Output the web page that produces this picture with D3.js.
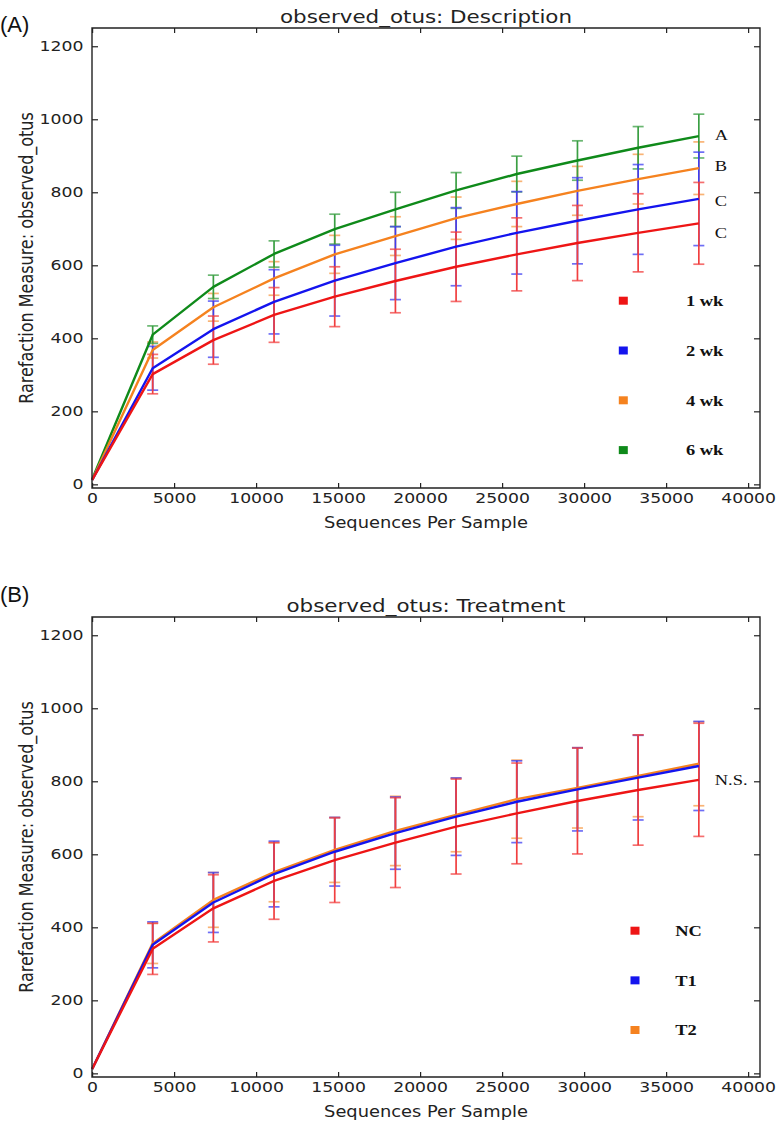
<!DOCTYPE html>
<html><head><meta charset="utf-8">
<script src="https://cdn.jsdelivr.net/npm/d3@7"></script>
<style>body{margin:0;background:#fff}</style>
</head><body>
<svg id="c" width="777" height="1128" xmlns="http://www.w3.org/2000/svg"></svg>
<script>
// ---------- data ----------
const seqDepths = [10, 3700, 7400, 11100, 14800, 18500, 22200, 25900, 29600, 33300, 37000];
const xTicks = [0, 5000, 10000, 15000, 20000, 25000, 30000, 35000, 40000];
const yTicks = [0, 200, 400, 600, 800, 1000, 1200];

// Panel A: Description
const descNames = ["1 wk", "2 wk", "4 wk", "6 wk"];
const desc1wkMean = [12, 302, 395, 464, 514, 557, 596, 630, 661, 689, 715];
const desc2wkMean = [12, 318, 425, 500, 558, 606, 651, 689, 722, 753, 782];
const desc4wkMean = [12, 368, 485, 564, 630, 680, 729, 768, 804, 836, 866];
const desc6wkMean = [14, 410, 541, 631, 699, 753, 805, 850, 887, 922, 954];
const desc1wkSd = [0, 54, 66, 75, 82, 87, 95, 100, 103, 107, 112];
const desc2wkSd = [0, 60, 77, 88, 97, 100, 107, 113, 118, 123, 128];
const desc4wkSd = [0, 22, 38, 46, 52, 53, 58, 62, 67, 68, 72];
const desc6wkSd = [0, 24, 32, 36, 41, 47, 49, 49, 54, 58, 60];
const descLetters = ["A", "B", "C", "C"];
const descLetterVals = [957, 873, 777, 688];

// Panel B: Treatment
const treatNames = ["NC", "T1", "T2"];
const treatNCMean = [12, 341, 452, 527, 584, 632, 676, 712, 746, 776, 804];
const treatT1Mean = [12, 352, 468, 546, 607, 658, 703, 744, 778, 810, 842];
const treatT2Mean = [12, 356, 475, 551, 612, 664, 708, 751, 782, 815, 848];
const treatNCSd = [0, 70, 92, 105, 116, 123, 130, 138, 145, 151, 155];
const treatT1Sd = [0, 63, 82, 90, 94, 99, 106, 112, 114, 116, 122];
const treatT2Sd = [0, 55, 75, 81, 89, 95, 101, 107, 110, 112, 115];
const treatNote = "N.S.";
const treatNoteVal = 804;

// ---------- styling ----------
const RED = "#ee1515", BLUE = "#1414ee", ORANGE = "#f5821f", GREEN = "#0f8a1a";
const S = 1.19; // horizontal stretch of the reference picture
const svg = d3.select("#c");
const root = svg.append("g").attr("transform", `scale(${S},1)`);

function panel(cfg) {
  const g = root.append("g");
  const x = d3.scaleLinear().domain([0, 40730]).range([cfg.left / S, cfg.right / S]);
  const y = d3.scaleLinear().domain([-10, 1250]).range([cfg.bottom, cfg.top]);

  // error bars
  cfg.barOrder.forEach(si => {
    const s = cfg.series[si];
    const barColor = d3.interpolateRgb(s.color, "#ffffff")(0.18);
    const eg = g.append("g").attr("stroke", barColor)
      .attr("stroke-width", 1.7).attr("fill", "none");
    const pts = seqDepths.map((d, i) => ({x: d, m: s.mean[i], sd: s.sd[i]})).filter(p => p.sd > 0);
    eg.selectAll("line.v").data(pts).join("line").attr("class", "v")
      .attr("x1", p => x(p.x)).attr("x2", p => x(p.x))
      .attr("y1", p => y(p.m - p.sd)).attr("y2", p => y(p.m + p.sd))
      .attr("vector-effect", "non-scaling-stroke");
    ["lo", "hi"].forEach(k => {
      eg.selectAll("line." + k).data(pts).join("line").attr("class", k)
        .attr("x1", p => x(p.x) - 5.5 / S).attr("x2", p => x(p.x) + 5.5 / S)
        .attr("y1", p => y(k === "lo" ? p.m - p.sd : p.m + p.sd))
        .attr("y2", p => y(k === "lo" ? p.m - p.sd : p.m + p.sd))
        .attr("stroke-opacity", 0.75)
        .attr("vector-effect", "non-scaling-stroke");
    });
  });

  // lines
  const line = d3.line().x((d, i) => x(seqDepths[i])).y(d => y(d));
  cfg.lineOrder.forEach(si => {
    const s = cfg.series[si];
    g.append("path").datum(s.mean).attr("d", line).attr("fill", "none")
      .attr("stroke", s.color).attr("stroke-width", 2.4)
      .attr("stroke-linejoin", "round")
      .attr("vector-effect", "non-scaling-stroke");
  });

  // axes (inward ticks on all four sides)
  const tickFont = "'DejaVu Sans', sans-serif";
  const ax = g.append("g").attr("transform", `translate(0,${cfg.bottom})`)
    .call(d3.axisBottom(x).tickValues(xTicks).tickSize(-5).tickPadding(4.8).tickFormat(d3.format("d")));
  const ay = g.append("g").attr("transform", `translate(${cfg.left / S},0)`)
    .call(d3.axisLeft(y).tickValues(yTicks).tickSize(-6 / S).tickPadding(8.6 / S).tickFormat(d3.format("d")));
  const at = g.append("g").attr("transform", `translate(0,${cfg.top})`)
    .call(d3.axisTop(x).tickValues(xTicks).tickSize(-5).tickFormat(""));
  const ar = g.append("g").attr("transform", `translate(${cfg.right / S},0)`)
    .call(d3.axisRight(y).tickValues(yTicks).tickSize(-6 / S).tickFormat(""));
  [ax, ay, at, ar].forEach(a => {
    a.select(".domain").remove();
    a.selectAll("line").attr("stroke", "#222").attr("stroke-width", 1.2).attr("vector-effect", "non-scaling-stroke");
    a.selectAll("text").attr("font-family", tickFont).attr("font-size", 14.5).attr("fill", "#222");
  });

  // frame
  g.append("rect").attr("x", cfg.left / S).attr("y", cfg.top)
    .attr("width", (cfg.right - cfg.left) / S).attr("height", cfg.bottom - cfg.top)
    .attr("fill", "none").attr("stroke", "#222").attr("stroke-width", 1.4)
    .attr("vector-effect", "non-scaling-stroke");

  // title and axis labels
  const cx = (cfg.left + cfg.right) / 2 / S;
  g.append("text").attr("x", cx).attr("y", cfg.top - 4.5).attr("text-anchor", "middle")
    .attr("font-family", tickFont).attr("font-size", 18).attr("fill", "#222").text(cfg.title);
  g.append("text").attr("x", cx).attr("y", cfg.bottom + 40).attr("text-anchor", "middle")
    .attr("font-family", tickFont).attr("font-size", 15).attr("fill", "#222").text("Sequences Per Sample");
  g.append("text").attr("transform", `translate(${33 / S},${(cfg.top + cfg.bottom) / 2}) rotate(-90)`)
    .attr("text-anchor", "middle").attr("font-family", tickFont).attr("font-size", 16).attr("fill", "#222")
    .text("Rarefaction Measure: observed_otus");

  // legend
  cfg.series.forEach((s, i) => {
    const ly = cfg.legY + i * cfg.legStep;
    g.append("rect").attr("x", (cfg.legX - 4.5) / S).attr("y", ly - 4).attr("width", 9 / S).attr("height", 8)
      .attr("fill", s.color);
    g.append("text").attr("x", cfg.legTextX / S).attr("y", ly + 5.3)
      .attr("font-family", "'Liberation Serif', 'Times New Roman', serif").attr("font-weight", "bold")
      .attr("font-size", 15.5).attr("fill", "#111").text(s.name);
  });

  // annotations at the end of curves
  cfg.notes.forEach(n => {
    g.append("text").attr("x", x(37000) + 16 / S).attr("y", y(n.v)).attr("dy", "0.34em")
      .attr("font-family", "'Liberation Serif', 'Times New Roman', serif")
      .attr("font-size", 15.5).attr("fill", "#111").text(n.t);
  });

  // panel tag
  svg.append("text").attr("x", 0).attr("y", cfg.tagY)
    .attr("font-family", "'Liberation Sans', Arial, sans-serif").attr("font-size", 22).attr("fill", "#111")
    .text(cfg.tag);
}

panel({
  left: 92, right: 760, top: 28, bottom: 488, tag: "(A)", tagY: 31.5,
  title: "observed_otus: Description",
  series: [
    {name: descNames[0], color: RED, mean: desc1wkMean, sd: desc1wkSd},
    {name: descNames[1], color: BLUE, mean: desc2wkMean, sd: desc2wkSd},
    {name: descNames[2], color: ORANGE, mean: desc4wkMean, sd: desc4wkSd},
    {name: descNames[3], color: GREEN, mean: desc6wkMean, sd: desc6wkSd}
  ],
  barOrder: [2, 3, 1, 0], lineOrder: [3, 2, 1, 0],
  legX: 623.3, legY: 300.7, legStep: 49.8, legTextX: 686,
  notes: descLetters.map((t, i) => ({t, v: descLetterVals[i]}))
});

panel({
  left: 92, right: 760, top: 617, bottom: 1077, tag: "(B)", tagY: 601.5,
  title: "observed_otus: Treatment",
  series: [
    {name: treatNames[0], color: RED, mean: treatNCMean, sd: treatNCSd},
    {name: treatNames[1], color: BLUE, mean: treatT1Mean, sd: treatT1Sd},
    {name: treatNames[2], color: ORANGE, mean: treatT2Mean, sd: treatT2Sd}
  ],
  barOrder: [2, 1, 0], lineOrder: [2, 1, 0],
  legX: 635, legY: 930.7, legStep: 49.65, legTextX: 675.3,
  notes: [{t: treatNote, v: treatNoteVal}]
});
</script>
</body></html>
